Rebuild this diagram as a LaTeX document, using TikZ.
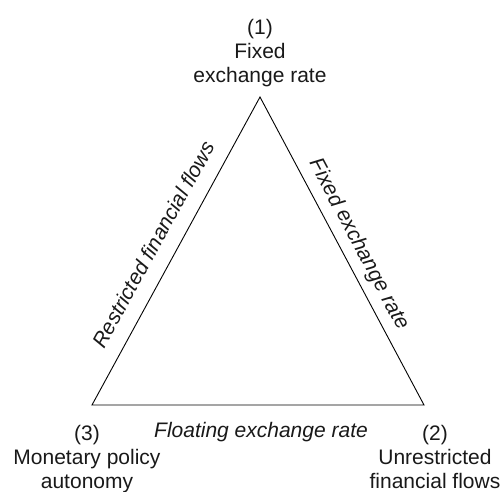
\documentclass[tikz,border=0pt]{standalone}
\usepackage{fontspec}
\setmainfont{Liberation Sans}
\begin{document}
\begin{tikzpicture}[x=1pt,y=1pt,
  lbl/.style={font=\fontsize{21}{24}\selectfont, inner sep=0pt, anchor=base, text=black!90},
  side/.style={lbl, font=\fontsize{21}{24}\selectfont\itshape},
  tri/.style={draw=black, line width=0.9pt, line join=miter}]
\useasboundingbox (0,0) rectangle (500,491);
\coordinate (V1) at (260,394);
\coordinate (V2) at (424,86);
\coordinate (V3) at (92,86);
\draw[tri] (V1) -- (V2) -- (V3) -- cycle;
\node[lbl] (L1) at (260,456) {\begin{tabular}[t]{@{}c@{}}(1)\\Fixed\\exchange rate\end{tabular}};
\node[lbl] (L3) at (87,51) {\begin{tabular}[t]{@{}c@{}}(3)\\Monetary policy\\autonomy\end{tabular}};
\node[lbl] (L2) at (435,51) {\begin{tabular}[t]{@{}c@{}}(2)\\Unrestricted\\financial flows\end{tabular}};
\node[side] (S13) at (160,243) [rotate=61.4] {Restricted financial flows};
\node[side] (S12) at (354,244) [rotate=-62.0] {Fixed exchange rate};
\node[side] (S23) at (261,54) {Floating exchange rate};
\end{tikzpicture}
\end{document}
